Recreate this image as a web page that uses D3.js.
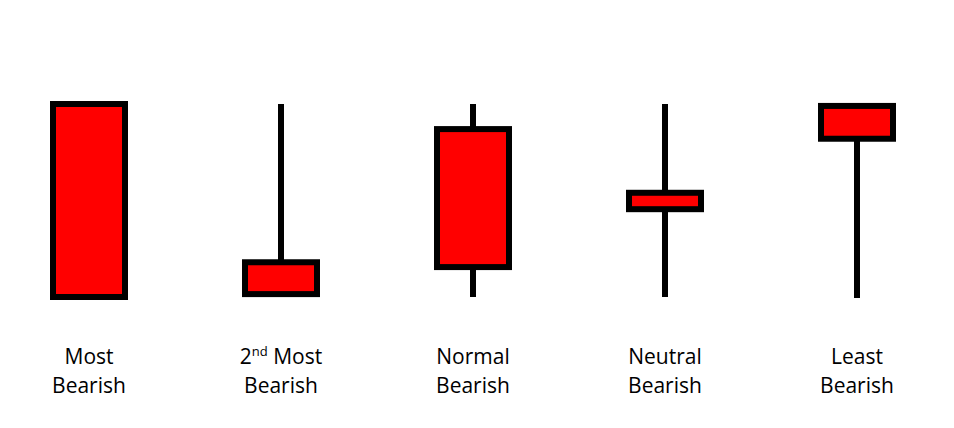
<!DOCTYPE html>
<html>
<head>
<meta charset="utf-8">
<script src="https://cdn.jsdelivr.net/npm/d3@7"></script>
<style>
  body { margin: 0; background: #fff; }
</style>
</head>
<body>
<div id="chart"></div>
<script>
// candle data (price units 0..100)
const names = ["Most Bearish", "2nd Most Bearish", "Normal Bearish", "Neutral Bearish", "Least Bearish"];
const opens = [100, 18, 87, 54, 99];
const closes = [0, 1.5, 15.5, 45.5, 82];
const highs = [100, 100, 100, 100, 100];
const lows = [0, 1.5, 0, 0, -0.5];
const labelTop = ["Most", "2|nd| Most", "Normal", "Neutral", "Least"];
const labelBottom = ["Bearish", "Bearish", "Bearish", "Bearish", "Bearish"];

const width = 954, height = 428;
const bodyWidth = 72;

const data = names.map((n, i) => ({
    name: n, open: opens[i], close: closes[i], high: highs[i], low: lows[i],
    top: labelTop[i], bottom: labelBottom[i]
}));

const svg = d3.select("#chart").append("svg")
    .attr("width", width)
    .attr("height", height)
    .attr("font-family", "'Open Sans', sans-serif");

const x = d3.scalePoint()
    .domain(names)
    .range([89, 857]);

const y = d3.scaleLinear()
    .domain([0, 100])
    .range([297, 104]);

const candle = svg.selectAll("g.candle")
    .data(data)
    .join("g")
    .attr("class", "candle")
    .attr("transform", d => `translate(${x(d.name)},0)`);

// wick first, body drawn over it
candle.append("line")
    .attr("x1", 0).attr("x2", 0)
    .attr("y1", d => y(d.high))
    .attr("y2", d => y(d.low))
    .attr("stroke", "#000")
    .attr("stroke-width", 6);

candle.append("rect")
    .attr("x", -bodyWidth / 2)
    .attr("width", bodyWidth)
    .attr("y", d => y(Math.max(d.open, d.close)))
    .attr("height", d => Math.abs(y(d.open) - y(d.close)))
    .attr("fill", "#ff0000")
    .attr("stroke", "#000")
    .attr("stroke-width", 6);

// labels
const lbl = candle.append("text")
    .attr("text-anchor", "middle")
    .attr("font-size", 21)
    .attr("fill", "#000");

lbl.append("tspan")
    .attr("x", 0)
    .attr("y", 364)
    .each(function(d) {
        const parts = d.top.split("|");
        const t = d3.select(this);
        if (parts.length === 1) { t.text(parts[0]); return; }
        t.append("tspan").text(parts[0]);
        t.append("tspan").attr("font-size", 13).attr("dy", -8).text(parts[1]);
        t.append("tspan").attr("dy", 8).text(parts[2]);
    });

lbl.append("tspan")
    .attr("x", 0)
    .attr("y", 393)
    .text(d => d.bottom);
</script>
</body>
</html>
